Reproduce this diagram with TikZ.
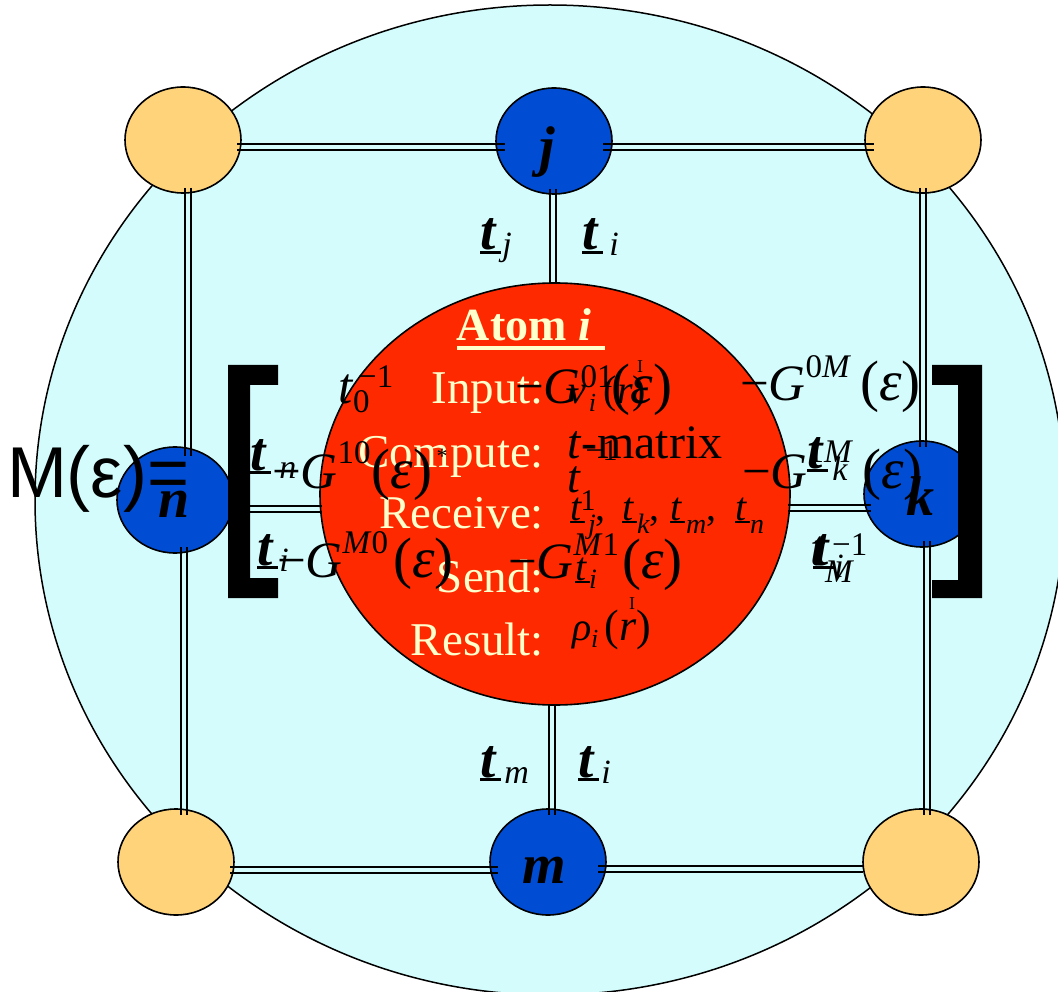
\documentclass[tikz,border=0pt]{standalone}
\usepackage{fontspec}
\setmainfont{Liberation Serif}
\newfontfamily\arialf{Liberation Sans}
\usetikzlibrary{shapes.geometric,calc}
\definecolor{bgc}{RGB}{212,252,252}
\definecolor{orn}{RGB}{255,211,122}
\definecolor{blu}{RGB}{0,77,211}
\definecolor{rdc}{RGB}{255,41,0}
\definecolor{crm}{RGB}{255,255,204}
\newcommand\fs[1]{\fontsize{#1}{#1}\selectfont}
\newcommand\ubt{\hbox{\bfseries\itshape\rlap{\rule[-0.08em]{0.38em}{0.06em}}t}}
\newcommand\uit{\hbox{\itshape\rlap{\rule[-0.08em]{0.38em}{0.06em}}t}}
\newcommand\lbl[4]{\ubt\kern#1pt\raisebox{#2pt}{\fs{#3}\itshape #4}}
\newcommand\Gt[3]{−\textit{G}\raisebox{#2pt}{\fs{33}#3}\kern#1pt{\fs{57}(\textit{ε})}}
\begin{document}
\begin{tikzpicture}[x=1pt,y=-1pt,
  every node/.style={inner sep=0pt, outer sep=0pt},
  nd/.style={ellipse, draw, line width=1.6pt, minimum width=116pt, minimum height=106pt},
  orb/.style={nd, fill=orn},
  blb/.style={nd, fill=blu},
  hdl/.style={draw, line width=2.6pt, preaction={draw, line width=2.6pt, transform canvas={yshift=5.8pt}}},
  vdl/.style={draw, line width=2.4pt, preaction={draw, line width=2.4pt, transform canvas={xshift=5.8pt}}},
  cr/.style={anchor=base east, text=crm, font=\fs{47}},
  mx/.style={anchor=base west, font=\fs{51}},
  lb/.style={anchor=base west, font=\fs{55}},
  rc/.style={anchor=base west, font=\fs{40}},
  ltr/.style={anchor=base, font=\fs{56}\bfseries\itshape},
  brk/.style={fill=black},
]
\useasboundingbox (0,0) rectangle (1058,992);
\fill[white] (0,0) rectangle (1058,992);
\begin{scope}
\clip (0,0) rectangle (1058,992);
\node[ellipse, draw, line width=1.5pt, fill=bgc, minimum width=1030pt, minimum height=990pt] (bg) at (550,500) {};
\end{scope}
% nodes
\node[orb] (tl) at (183,140) {};
\node[blb] (j) at (554,141) {};
\node[orb] (tr) at (923,140) {};
\node[blb] (n) at (175,500) {};
\node[blb] (k) at (922,494) {};
\node[orb] (bl) at (176,862) {};
\node[blb] (m) at (548,862) {};
\node[orb] (br) at (921,862) {};
\node[ellipse, draw, line width=1.6pt, fill=rdc, minimum width=470pt, minimum height=422pt] (red) at (555,494) {};
% connectors
\path[hdl] ($(tl.east)+(-4,9.9)$) -- ($(j.west)+(9,8.9)$);
\path[hdl] ($(j.east)+(-9,8.9)$) -- ($(tr.west)+(9,9.9)$);
\path[vdl] ($(tl.south)+(2.1,-5)$) -- ($(n.north)+(10.1,9)$);
\path[vdl] ($(n.south)+(6.1,-6)$) -- ($(bl.north)+(5.1,6)$);
\path[vdl] ($(j.south)+(-3.9,-5)$) -- ($(red.north)+(-4.9,1)$);
\path[vdl] ($(red.south)+(-5.9,-1)$) -- ($(m.north)+(1.1,6)$);
\path[hdl] ($(n.east)+(-4,11.9)$) -- ($(red.west)+(2,17.9)$);
\path[hdl] ($(red.east)+(-2,16.9)$) -- ($(k.west)+(7,16.9)$);
\path[vdl] ($(tr.south)+(-2.9,-5)$) -- ($(k.north)+(-1.9,6)$);
\path[vdl] ($(k.south)+(2.1,-6)$) -- ($(br.north)+(3.1,6)$);
\path[hdl] ($(bl.east)+(-4,10.9)$) -- ($(m.west)+(8,10.9)$);
\path[hdl] ($(m.east)+(-8,9.9)$) -- ($(br.west)+(0,9.9)$);
% node letters
\node[ltr] (jl) at (547,166) {j};
\node[ltr] (nl) at (174,517) {n};
\node[ltr] (kl) at (920,515) {k};
\node[ltr] (ml) at (544,883) {m};
% cream text
\node[anchor=base, text=crm, font=\fs{46}\bfseries] (atom) at (524,341) {Atom \textit{i}};
\draw[crm, line width=3.5pt] ($(atom.base west)+(0,7)$) -- ($(atom.base east)+(14,7)$);
\node[cr] (inp) at (544,403) {Input:};
\node[cr] (cmp) at (544,467) {Compute:};
\node[cr] (rcv) at (544,528) {Receive:};
\node[cr] (snd) at (544,592) {Send:};
\node[cr] (res) at (544,655) {Result:};
% right column
\node[rc] (vin) at (568,403) {\textit{v}\kern3pt\raisebox{-8pt}{\fs{26}\textit{i}}\kern8pt(\textit{r})};
\node[font=\fs{18}] (arr1) at (640,367) {I};
\node[mx, font=\fs{48}] (tmat) at (567,458) {\textit{t}-matrix};
\node[rc] (rj) at (570,520) {\uit\kern7pt\raisebox{-13pt}{\fs{28}\textit{j}},};
\node[rc] (rk) at (622,520) {\uit\kern4pt\raisebox{-13pt}{\fs{28}\textit{k}},};
\node[rc] (rm) at (670,520) {\uit\kern5pt\raisebox{-13pt}{\fs{28}\textit{m}},};
\node[rc] (rn) at (735,520) {\uit\kern4pt\raisebox{-13pt}{\fs{28}\textit{n}}};
\node[rc] (st) at (575,580) {\uit\kern3pt\raisebox{-8pt}{\fs{28}\textit{i}}};
\node[rc] (rho) at (572,640) {\textit{ρ}\raisebox{-7pt}{\fs{26}\textit{i}}\kern6pt{\fs{44}(\textit{r})}};
\node[font=\fs{18}] (arr2) at (632,604) {I};
% matrix
\node[mx] (t0) at (338,403) {\textit{t}\rlap{\raisebox{-9pt}{\fs{33}0}}\kern5pt\raisebox{16pt}{\fs{33}−1}};
\node[mx] (g01) at (515,403) {\Gt{-2}{16}{01}};
\node[mx] (g0M) at (740,400) {\Gt{9}{23}{0\textit{M}}};
\node[mx] (g10) at (272,488) {\Gt{1}{25}{10}};
\node[font=\fs{22}] (ast) at (442,456) {*};
\node[mx, font=\fs{46}] (t1) at (567,492) {\textit{t}\rlap{\raisebox{-18pt}{\fs{30}1}}\kern5pt\raisebox{32pt}{\fs{30}−1}};
\node[mx] (g1M) at (742,488) {\Gt{9}{26}{1\textit{M}}};
\node[mx] (gM0) at (277,577) {\Gt{5}{24}{\textit{M}0}};
\node[mx] (gM1) at (508,578) {\Gt{3}{23}{\textit{M}1}};
\node[mx] (tM) at (810,565) {\textit{t}\rlap{\raisebox{-17pt}{\fs{33}\textit{M}}}\kern7pt\raisebox{10pt}{\fs{33}−1}};
% link labels
\node[lb] (lj) at (480,250) {\lbl{7}{-6}{34}{j}};
\node[lb] (li1) at (582,250) {\lbl{12}{-6}{34}{i}};
\node[lb] (lm) at (480,777) {\lbl{9}{-6}{34}{m}};
\node[lb] (li2) at (578,777) {\lbl{8}{-6}{34}{i}};
\node[lb] (ln) at (250,470) {\lbl{14}{-8}{34}{n}};
\node[lb] (li3) at (257,565) {\lbl{7}{-6}{34}{i}};
\node[lb] (lk) at (807,468) {\lbl{10}{-12}{34}{k}};
\node[lb] (li4) at (813,565) {\lbl{6}{-12}{34}{i}};
% M(eps)=
\node[anchor=base west, font=\arialf\fs{72}] (meq) at (7,497) {M(ε)=};
% brackets
\fill[brk] (228,365) -- (278,365) -- (278,385) -- (250,385) -- (250,578) -- (278,578) -- (278,598) -- (228,598) -- cycle;
\fill[brk] (932,365) -- (982,365) -- (982,598) -- (932,598) -- (932,580) -- (958,580) -- (958,385) -- (932,385) -- cycle;
\end{tikzpicture}
\end{document}
